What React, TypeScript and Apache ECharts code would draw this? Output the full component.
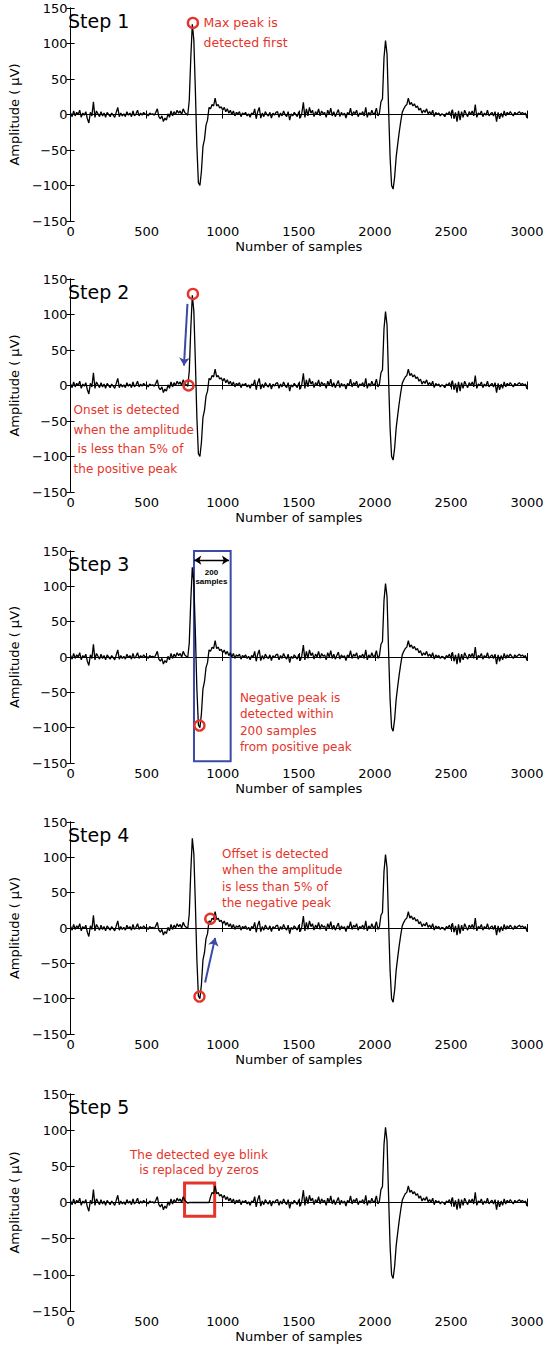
import React, { useEffect, useRef } from 'react';
import * as echarts from 'echarts';

// ---------- data ----------
const SAMPLE_STEP = 10; // one value every 10 samples, 0..3000

// EEG amplitude (µV), sample 0 .. 3000
const amplitude: number[] = [
  2, -3, 5, -2, 3, 0, 6, -4, 2, -1,
  4, -6, -12, 3, -2, 18, -4, 5, 1, -3,
  4, -2, 2, -4, 3, 0, -3, 2, -1, -4,
  3, 10, -3, 2, -2, 1, -3, 4, -1, 2,
  -3, 5, -2, 1, 6, -2, 2, -1, 3, 0,
  1, -2, 2, 0, 1, -1, 3, 8, -3, -6,
  -2, -10, -5, -8, 1, -4, 5, -2, 4, 0,
  6, 2, 5, 0, 8, 3, 1,
  -1, 20, 80, 127, 105, 35, -45, -96, -100, -80,
  -45, -35, -15, -8, 10, 8, 14, 12, 23, 12,
  14, 9, 11,
  6, 10, 4, 8, 2, 6, 0, 5, -2, 3,
  1, 4, -3, 2, 0, 3, -2, 1, -4, 2,
  0, 8, -6, 4, 10, -5, 2, -3, 4, 0,
  -2, 3, -5, 2, -1, 3, 4, -4, 2, -2,
  5, 0, -3, 4, -8, 1, -2, 3, 0, -3,
  4, -5, 2, 17, -4, 8, -2, 10, 2, 6,
  -3, 4, 0, 8, -2, 5, 1, 3, -4, 6,
  0, 9, -2, 4, -3, 2, 7, -3, 3, -1,
  2, -5, 3, 0, 9, -2, 4, 1, 6, -3,
  2, 0, 4, -2, 10, -4, 3, -1, 6, 0,
  2, 9, -2, 2, 18, 22, 80, 104, 85, 10,
  -60, -100, -105, -88, -60, -42, -25, -10, 3, 8,
  12, 14, 23, 14, 17, 12, 15, 10, 12, 6,
  9, 2, 6, 3, 8, 1, 4, 0, 6, -3,
  3, 0, 2, -2, 1, 0, -3, 2, 0, 4,
  -2, 7, -6, 3, -10, 5, -8, 4, -4, 6,
  1, -3, 4, 0, 5, -2, 14, -4, 2, 0,
  5, -3, 2, -1, 6, -2, 1, 3, -2, 4,
  -10, 3, -6, 2, -4, 5, -2, 3, 0, 4,
  1, -2, 3, 0, 2, 4, 1, 3, 0, 2,
  -5,
];

// samples replaced by zeros in step 5 (the detected blink)
const zeroedFrom = 780;
const zeroedTo = 910;

const stepTitles = ['Step 1', 'Step 2', 'Step 3', 'Step 4', 'Step 5'];
const xMin = 0, xMax = 3000, xInterval = 500;
const yMin = -150, yMax = 150, yInterval = 50;
const xAxisTitle = 'Number of samples';
const yAxisTitle = 'Amplitude ( \u03bcV)';

// annotation points (sample, µV)
const positivePeak: [number, number] = [804, 129];
const onsetPoint: [number, number] = [775, 0];
const negativePeak: [number, number] = [847, -97];
const offsetPoint: [number, number] = [918, 13];

// ---------- layout / style ----------
const W = 549, H = 1347;
const GRID_LEFT = 67, GRID_RIGHT = 22;
const gridTops = [8, 279, 551, 822, 1094];
const gridHeights = [213, 213, 212, 212, 217];
const FONT = 'DejaVu Sans';
const RED = '#e5352b';
const BLUE = '#3a4aa6';

const signalData = amplitude.map((v, i) => [i * SAMPLE_STEP, v]);
const cleanedData = amplitude.map((v, i) => {
  const s = i * SAMPLE_STEP;
  return [s, s >= zeroedFrom && s <= zeroedTo ? 0 : v];
});

const circle = (p: [number, number]) => ({
  coord: p,
  symbol: 'circle',
  symbolSize: 10,
  itemStyle: { color: 'rgba(0,0,0,0)', borderColor: RED, borderWidth: 2.4 },
  label: { show: false },
});

const note = (x: number, y: number, text: string, opts: any = {}) => ({
  coord: [x, y],
  symbol: 'rect',
  symbolSize: 1,
  itemStyle: { color: 'rgba(0,0,0,0)' },
  label: {
    show: true,
    formatter: text,
    position: [0, 0],
    align: 'left',
    verticalAlign: 'top',
    color: RED,
    fontSize: 12,
    fontFamily: FONT,
    lineHeight: 16,
    ...opts,
  },
});

const arrow = (from: [number, number], to: [number, number], both = false) => [
  { coord: from, symbol: both ? 'arrow' : 'none' },
  { coord: to, symbol: 'arrow' },
];

export default function App() {
  const ref = useRef<HTMLDivElement>(null);
  useEffect(() => {
    if (!ref.current) return;
    const chart = echarts.init(ref.current, undefined, { renderer: 'svg' });

    const grids: any[] = [];
    const xAxes: any[] = [];
    const yAxes: any[] = [];
    const titles: any[] = [];
    const axisLine = { show: true, lineStyle: { color: '#000', width: 1 } };
    const tick = { show: true, inside: true, length: 4, lineStyle: { color: '#000', width: 1 } };
    const fmtY = (v: number) => (v < 0 ? '\u2212' + Math.abs(v) : String(v));
    const fmtX = (v: number) => String(v);

    for (let k = 0; k < 5; k++) {
      grids.push({ left: GRID_LEFT, right: GRID_RIGHT, top: gridTops[k], height: gridHeights[k] });
      xAxes.push({
        gridIndex: k, type: 'value', min: xMin, max: xMax, interval: xInterval, position: 'bottom',
        axisLine, axisTick: tick, splitLine: { show: false },
        axisLabel: { color: '#000', fontSize: 13, fontFamily: FONT, margin: 4, formatter: fmtX },
        name: xAxisTitle, nameLocation: 'middle', nameGap: 19,
        nameTextStyle: { color: '#000', fontSize: 13, fontFamily: FONT },
      });
      xAxes.push({
        gridIndex: k, type: 'value', min: xMin, max: xMax, interval: xInterval, position: 'top',
        axisLine, axisTick: tick, splitLine: { show: false }, axisLabel: { show: false },
      });
      yAxes.push({
        gridIndex: k, type: 'value', min: yMin, max: yMax, interval: yInterval, position: 'left',
        axisLine, axisTick: tick, splitLine: { show: false },
        axisLabel: { color: '#000', fontSize: 13, fontFamily: FONT, margin: 3, formatter: fmtY },
        name: yAxisTitle, nameLocation: 'middle', nameGap: 44,
        nameTextStyle: { color: '#000', fontSize: 13, fontFamily: FONT },
      });
      yAxes.push({
        gridIndex: k, type: 'value', min: yMin, max: yMax, interval: yInterval, position: 'right',
        axisLine, axisTick: tick, splitLine: { show: false }, axisLabel: { show: false },
      });
      titles.push({
        text: stepTitles[k], left: 68, top: gridTops[k] + 3, padding: 0,
        textStyle: { color: '#000', fontSize: 19, fontWeight: 'normal', fontFamily: FONT },
      });
    }

    const base = (k: number, data: any[]) => ({
      type: 'line', xAxisIndex: 2 * k, yAxisIndex: 2 * k, data,
      showSymbol: false, symbol: 'none', silent: true,
      lineStyle: { color: '#000', width: 1.3 },
    });

    const series: any[] = [
      {
        ...base(0, signalData),
        markPoint: {
          silent: true,
          data: [circle(positivePeak), note(877, 143, 'Max peak is\ndetected first', { lineHeight: 20, fontSize: 12.5 })],
        },
      },
      {
        ...base(1, signalData),
        markPoint: {
          silent: true,
          data: [
            circle(positivePeak), circle(onsetPoint),
            note(23, -21.5, 'Onset is detected\nwhen the amplitude\n is less than 5% of\nthe positive peak', { lineHeight: 19.5 }),
          ],
        },
        markLine: {
          silent: true, symbolSize: 8, label: { show: false },
          lineStyle: { color: BLUE, width: 2, type: 'solid' },
          data: [arrow([768, 115], [745, 28])],
        },
      },
      {
        ...base(2, signalData),
        markPoint: {
          silent: true,
          data: [
            circle(negativePeak),
            note(1116, -47, 'Negative peak is\ndetected within\n200 samples\nfrom positive peak', { lineHeight: 16.4 }),
            note(929, 125.5, '200\nsamples', {
              align: 'center', color: '#000', fontSize: 8, fontWeight: 'bold',
              fontFamily: 'Liberation Sans', lineHeight: 9,
            }),
          ],
        },
        markLine: {
          silent: true, symbolSize: 7, label: { show: false },
          lineStyle: { color: '#000', width: 1.3, type: 'solid' },
          data: [arrow([813, 137], [1041, 137], true)],
        },
        markArea: {
          silent: true,
          itemStyle: { color: 'rgba(0,0,0,0)', borderColor: BLUE, borderWidth: 2 },
          data: [[{ coord: [811, 150] }, { coord: [1052, -147.5] }]],
        },
      },
      {
        ...base(3, signalData),
        markPoint: {
          silent: true,
          data: [
            circle(negativePeak), circle(offsetPoint),
            note(998, 116, 'Offset is detected\nwhen the amplitude\nis less than 5% of\nthe negative peak', { lineHeight: 16.4 }),
          ],
        },
        markLine: {
          silent: true, symbolSize: 8, label: { show: false },
          lineStyle: { color: BLUE, width: 2, type: 'solid' },
          data: [arrow([884, -77], [950, -14])],
        },
      },
      {
        ...base(4, cleanedData),
        markPoint: {
          silent: true,
          data: [note(847, 76.5, 'The detected eye blink\nis replaced by zeros', { align: 'center', lineHeight: 15.7 })],
        },
        markArea: {
          silent: true,
          itemStyle: { color: 'rgba(0,0,0,0)', borderColor: RED, borderWidth: 3 },
          data: [[{ coord: [749, 27] }, { coord: [947, -19] }]],
        },
      },
    ];

    chart.setOption({
      animation: false,
      backgroundColor: '#fff',
      title: titles,
      grid: grids,
      xAxis: xAxes,
      yAxis: yAxes,
      series,
    });
    return () => chart.dispose();
  }, []);

  return <div ref={ref} style={{ position: 'absolute', left: 0, top: 0, width: W, height: H }} />;
}
